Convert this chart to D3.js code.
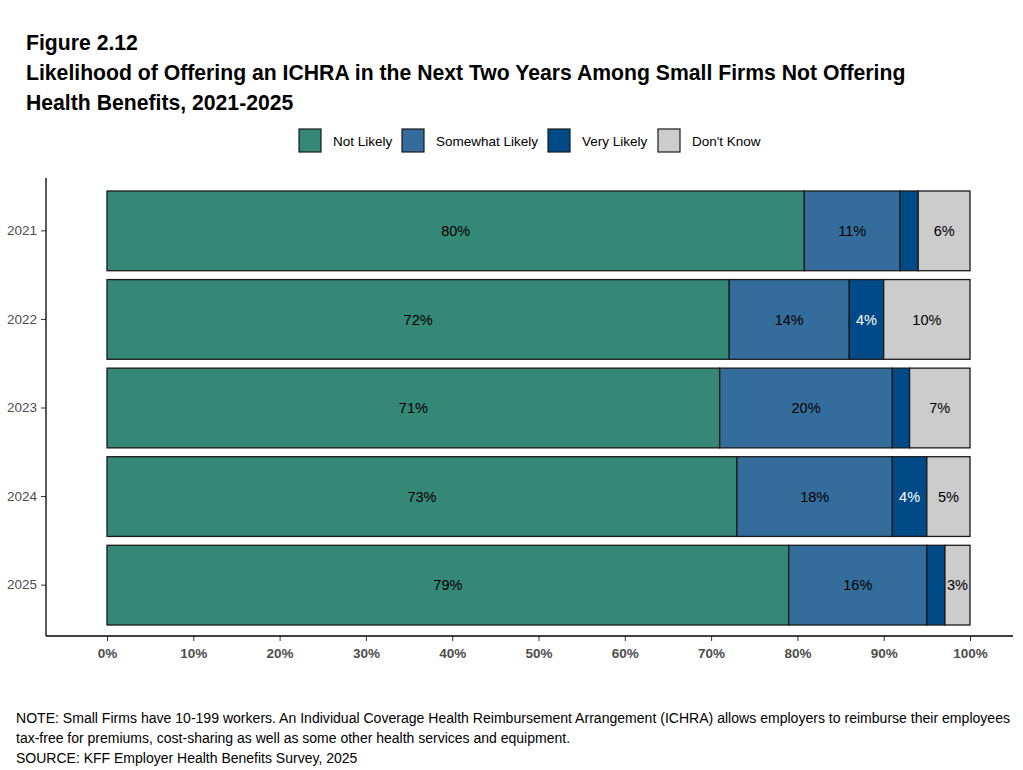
<!DOCTYPE html>
<html lang="en">
<head>
<meta charset="UTF-8">
<title>Figure 2.12</title>
<script src="https://d3js.org/d3.v7.min.js"></script>
<style>
  body { margin: 0; background: #fff; }
  svg { font-family: "Liberation Sans", Arial, sans-serif; }
</style>
</head>
<body>
<div id="chart"></div>
<script>
// Data
const years = ["2021", "2022", "2023", "2024", "2025"];
const categories = ["Not Likely", "Somewhat Likely", "Very Likely", "Don't Know"];
const notLikely      = [80.8, 72.1, 71.0, 73.0, 79.0];
const somewhatLikely = [11.1, 13.9, 20.0, 18.0, 16.0];
const veryLikely     = [2.1, 4.0, 2.0, 4.0, 2.1];
const dontKnow       = [6.0, 10.0, 7.0, 5.0, 2.9];
const labelNotLikely      = ["80%", "72%", "71%", "73%", "79%"];
const labelSomewhatLikely = ["11%", "14%", "20%", "18%", "16%"];
const labelVeryLikely     = ["", "4%", "", "4%", ""];
const labelDontKnow       = ["6%", "10%", "7%", "5%", "3%"];
const xTicks = [0, 10, 20, 30, 40, 50, 60, 70, 80, 90, 100];

const series = [notLikely, somewhatLikely, veryLikely, dontKnow];
const labels = [labelNotLikely, labelSomewhatLikely, labelVeryLikely, labelDontKnow];
const colors = ["#358776", "#346d9c", "#004b87", "#cccccc"];
const textColors = ["#000", "#000", "#fff", "#000"];

const W = 1023, H = 770;
const svg = d3.select("#chart").append("svg")
    .attr("width", W).attr("height", H);

// Titles
const titles = ["Figure 2.12",
  "Likelihood of Offering an ICHRA in the Next Two Years Among Small Firms Not Offering",
  "Health Benefits, 2021-2025"];
svg.selectAll(".title").data(titles).join("text")
    .attr("class", "title")
    .attr("x", 26).attr("y", (d, i) => 50 + i * 30)
    .style("font-weight", "bold").style("font-size", "21.2px")
    .text(d => d);

// Legend
const legendX = [299, 402, 548, 658];
const lg = svg.selectAll(".lg").data(categories).join("g")
    .attr("class", "lg")
    .attr("transform", (d, i) => `translate(${legendX[i]},129)`);
lg.append("rect").attr("width", 22).attr("height", 23)
    .attr("fill", (d, i) => colors[i]).attr("stroke", "#1a1a1a").attr("stroke-width", 1.2);
lg.append("text").attr("x", 34).attr("y", 16.5)
    .style("font-size", "13.5px").text(d => d);

// Scales
const plotL = 46, plotR = 1013, plotT = 178, plotB = 636;
const x = d3.scaleLinear().domain([0, 100]).range([107, 970]);
const y = d3.scaleBand().domain(years).range([191, 625]).paddingInner(0.1).paddingOuter(0);

// Bars
const rows = years.map((yr, i) => {
  let acc = 0;
  return series.map((s, k) => {
    const seg = {year: yr, k, x0: acc, x1: acc + s[i], label: labels[k][i]};
    acc += s[i];
    return seg;
  });
}).flat();

svg.append("g").selectAll("rect").data(rows).join("rect")
    .attr("x", d => x(d.x0))
    .attr("y", d => y(d.year))
    .attr("width", d => x(d.x1) - x(d.x0))
    .attr("height", y.bandwidth())
    .attr("fill", d => colors[d.k])
    .attr("stroke", "#1a1a1a").attr("stroke-width", 1.3);

svg.append("g").selectAll("text").data(rows.filter(d => d.label)).join("text")
    .attr("x", d => x((d.x0 + d.x1) / 2))
    .attr("y", d => y(d.year) + y.bandwidth() / 2)
    .attr("dy", "0.36em")
    .attr("text-anchor", "middle")
    .style("font-size", "14.5px")
    .attr("fill", d => textColors[d.k])
    .text(d => d.label);

// Axes
const xAxis = svg.append("g").attr("transform", `translate(0,${plotB})`)
    .call(d3.axisBottom(x).tickValues(xTicks).tickFormat(d => d + "%").tickSize(5).tickPadding(7));
xAxis.select(".domain").remove();
xAxis.selectAll("text").style("font-size", "13.5px").style("font-weight", "bold")
    .attr("fill", "#4d4d4d").style("font-family", "Liberation Sans, Arial, sans-serif");
xAxis.selectAll("line").attr("stroke", "#333");

const yAxis = svg.append("g").attr("transform", `translate(${plotL},0)`)
    .call(d3.axisLeft(y).tickSize(5).tickPadding(4));
yAxis.select(".domain").remove();
yAxis.selectAll("text").style("font-size", "13.5px")
    .attr("fill", "#4d4d4d").style("font-family", "Liberation Sans, Arial, sans-serif");
yAxis.selectAll("line").attr("stroke", "#333");

svg.append("line").attr("x1", plotL).attr("x2", plotL).attr("y1", plotT).attr("y2", plotB)
    .attr("stroke", "#000").attr("stroke-width", 1.3);
svg.append("line").attr("x1", plotL).attr("x2", plotR).attr("y1", plotB).attr("y2", plotB)
    .attr("stroke", "#000").attr("stroke-width", 1.3);

// Notes
const notes = [
  "NOTE: Small Firms have 10-199 workers. An Individual Coverage Health Reimbursement Arrangement (ICHRA) allows employers to reimburse their employees",
  "tax-free for premiums, cost-sharing as well as some other health services and equipment.",
  "SOURCE: KFF Employer Health Benefits Survey, 2025"];
svg.selectAll(".note").data(notes).join("text")
    .attr("class", "note")
    .attr("x", 16).attr("y", (d, i) => 723 + i * 20)
    .style("font-size", "14px")
    .attr("textLength", (d, i) => i === 0 ? 994 : null)
    .attr("lengthAdjust", "spacingAndGlyphs")
    .text(d => d);
</script>
</body>
</html>
